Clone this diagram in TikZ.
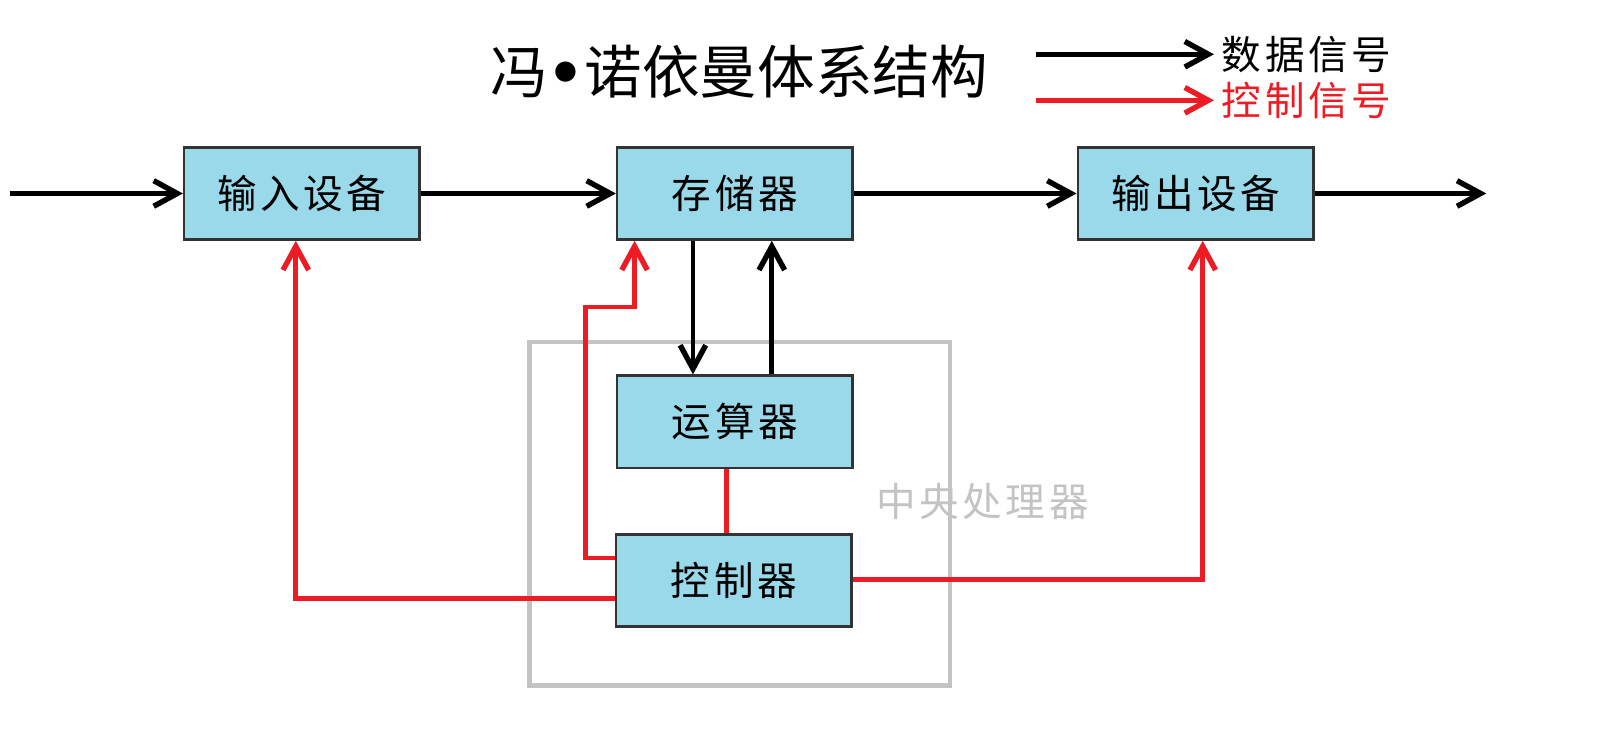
\documentclass[tikz,border=0pt]{standalone}
\usepackage{fontspec}
\setmainfont{Noto Sans CJK SC}
\newfontfamily\dotfont{DejaVu Sans}
\usetikzlibrary{arrows.meta}
\definecolor{boxblue}{RGB}{153,217,234}
\definecolor{sigred}{RGB}{237,28,36}
\definecolor{cpugray}{RGB}{195,195,195}
\begin{document}
\begin{tikzpicture}[x=0.01cm,y=-0.01cm,
  box/.style={draw=black!80,line width=0.7pt,fill=boxblue,minimum width=2.3cm,
    minimum height=0.9cm,inner sep=0pt,font=\fontsize{11pt}{13pt}\selectfont\addfontfeature{LetterSpace=9}},
  data/.style={-{Straight Barb[length=2.3mm,width=2.5mm,line width=1.5pt]},line width=1.3pt},
  ctrl/.style={data,draw=sigred},
  ctrlline/.style={draw=sigred,line width=1.3pt},
  lbl/.style={font=\fontsize{11pt}{13pt}\selectfont\addfontfeature{LetterSpace=9}}]
  \useasboundingbox (0,0) rectangle (1568,714);

  % title and legend
  \node[font=\fontsize{16pt}{18pt}\selectfont] (title) at (722,70)
    {冯{\dotfont\bfseries •}诺依曼体系结构};
  \coordinate (keyd) at (1012,53);
  \node[lbl,anchor=west,inner sep=2pt] (keydata) at (1186,53) {数据信号};
  \draw[data] (keyd) -- (keydata);
  \coordinate (keyc) at (1012,98);
  \node[lbl,anchor=west,inner sep=2pt,text=sigred] (keyctrl) at (1186,98) {控制信号};
  \draw[ctrl] (keyc) -- (keyctrl);

  % central processor
  \draw[cpugray,line width=1.3pt] (517,334) rectangle (928,670);
  \node[lbl,text=cpugray] (cpulbl) at (960,490) {中央处理器};

  \node[box] (in)  at (295,189)  {输入设备};
  \node[box] (mem) at (718,189)  {存储器};
  \node[box] (out) at (1168,189) {输出设备};
  \node[box] (alu) at (718,412)  {运算器};
  \node[box] (ctl) at (717,567)  {控制器};

  % data signals
  \coordinate (src)  at (10,189);
  \coordinate (sink) at (1452,189);
  \draw[data] (src) -- (in);
  \draw[data] (in) -- (mem);
  \draw[data] (mem) -- (out);
  \draw[data] (out) -- (sink);
  \draw[data] ([xshift=-0.41cm]mem.south) -- ([xshift=-0.41cm]alu.north);
  \draw[data] ([xshift=0.36cm]alu.north) -- ([xshift=0.36cm]mem.south);

  % control signals
  \coordinate (bend) at (572,300);
  \draw[ctrlline] ([xshift=-0.08cm]alu.south) -- ([xshift=-0.08cm]alu.south |- ctl.north);
  \draw[ctrl] ([yshift=0.22cm]ctl.west) -| (bend) -| ([xshift=-0.98cm]mem.south);
  \draw[ctrl] ([yshift=-0.18cm]ctl.west) -| ([xshift=-0.06cm]in.south);
  \draw[ctrl] ([yshift=0.01cm]ctl.east) -| ([xshift=0.07cm]out.south);
\end{tikzpicture}
\end{document}
